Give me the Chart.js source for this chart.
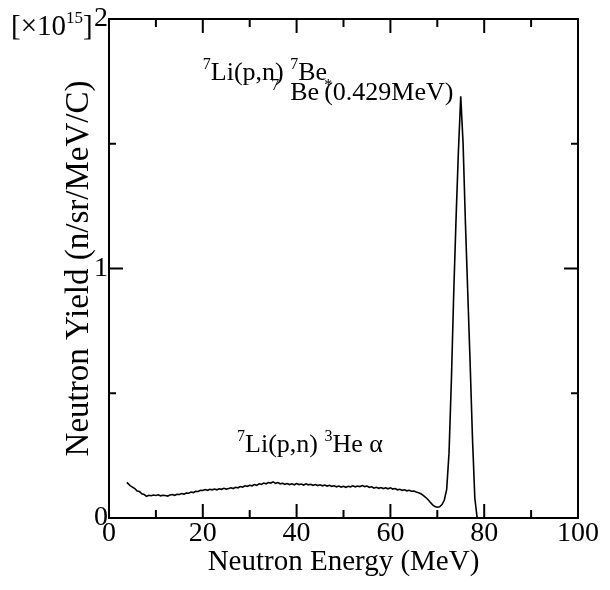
<!DOCTYPE html>
<html>
<head>
<meta charset="utf-8">
<script src="https://cdn.jsdelivr.net/npm/chart.js@4/dist/chart.umd.min.js"></script>
<style>
  html, body { margin: 0; padding: 0; background: #fff; }
  #wrap { width: 610px; height: 590px; }
</style>
</head>
<body>
<div id="wrap"><canvas id="c" width="610" height="590"></canvas></div>
<script>
// Neutron energy spectrum from 7Li(p,n) at ~78 MeV proton energy
const energy = [
  3.8, 4.5, 5, 5.5, 6, 6.5, 7, 7.5, 8, 8.5, 9, 9.5, 10, 10.5, 11, 11.5, 12, 12.5,
  13, 13.5, 14, 14.5, 15, 15.5, 16, 16.5, 17, 17.5, 18, 18.5, 19, 19.5, 20, 20.5,
  21, 21.5, 22, 22.5, 23, 23.5, 24, 24.5, 25, 25.5, 26, 26.5, 27, 27.5, 28, 28.5,
  29, 29.5, 30, 30.5, 31, 31.5, 32, 32.5, 33, 33.5, 34, 34.5, 35, 35.5, 36, 36.5,
  37, 37.5, 38, 38.5, 39, 39.5, 40, 40.5, 41, 41.5, 42, 42.5, 43, 43.5, 44, 44.5,
  45, 45.5, 46, 46.5, 47, 47.5, 48, 48.5, 49, 49.5, 50, 50.5, 51, 51.5, 52, 52.5,
  53, 53.5, 54, 54.5, 55, 55.5, 56, 56.5, 57, 57.5, 58, 58.5, 59, 59.5, 60, 60.5,
  61, 61.5, 62, 62.5, 63, 63.5, 64, 64.5, 65, 65.5, 66, 66.5, 67, 67.5, 68, 68.5,
  69, 69.5, 70, 70.5, 71, 71.5, 72, 72.5, 73, 73.5, 74, 74.5, 75, 75.5, 76, 76.5,
  77, 77.5, 78, 78.5
];

// yield in units of 1e15 n/sr/MeV/C
const neutronYield = [
  0.143, 0.130, 0.124, 0.118, 0.108, 0.106, 0.097, 0.094, 0.087, 0.091, 0.089, 0.092, 0.090, 0.093, 0.089, 0.091, 0.090, 0.088,
  0.092, 0.094, 0.091, 0.095, 0.094, 0.098, 0.096, 0.100, 0.099, 0.104, 0.102, 0.107, 0.106, 0.111, 0.110, 0.114,
  0.111, 0.115, 0.113, 0.116, 0.113, 0.117, 0.115, 0.119, 0.116, 0.118, 0.121, 0.118, 0.123, 0.121, 0.126, 0.124,
  0.129, 0.127, 0.131, 0.129, 0.134, 0.131, 0.137, 0.135, 0.140, 0.137, 0.142, 0.140, 0.145, 0.139, 0.142, 0.137,
  0.139, 0.135, 0.138, 0.134, 0.137, 0.133, 0.138, 0.134, 0.136, 0.132, 0.137, 0.133, 0.135, 0.131, 0.134, 0.130,
  0.133, 0.129, 0.132, 0.128, 0.131, 0.127, 0.129, 0.125, 0.128, 0.124, 0.127, 0.123, 0.127, 0.125, 0.129, 0.125,
  0.128, 0.126, 0.130, 0.126, 0.128, 0.123, 0.125, 0.120, 0.123, 0.119, 0.122, 0.118, 0.121, 0.117, 0.121, 0.116,
  0.118, 0.113, 0.115, 0.111, 0.113, 0.109, 0.111, 0.107, 0.108, 0.104, 0.101, 0.097, 0.091, 0.083, 0.074, 0.063,
  0.053, 0.046, 0.043, 0.045, 0.054, 0.072, 0.115, 0.26, 0.55, 0.90, 1.20, 1.47, 1.69, 1.50, 1.18, 0.90,
  0.62, 0.32, 0.08, 0.00
];

const xMajorTicks = [0, 20, 40, 60, 80, 100];
const xMinorTicks = [10, 30, 50, 70, 90];
const yMajorTicks = [0, 1, 2];
const yMinorTicks = [0.5, 1.5];

const SERIF = "'Liberation Serif', 'DejaVu Serif', 'Times New Roman', serif";
Chart.defaults.font.family = SERIF;
Chart.defaults.color = '#000';

// Frame around the plot area with inward-pointing ticks on all four sides
const frameTicks = {
  id: 'frameTicks',
  afterDatasetsDraw(chart) {
    const { ctx, chartArea: a, scales: { x, y } } = chart;
    ctx.save();
    ctx.strokeStyle = '#000';
    ctx.lineWidth = 2;
    ctx.strokeRect(a.left, a.top, a.right - a.left, a.bottom - a.top);
    const seg = (x1, y1, x2, y2) => { ctx.beginPath(); ctx.moveTo(x1, y1); ctx.lineTo(x2, y2); ctx.stroke(); };
    const xTick = (v, len) => {
      const px = x.getPixelForValue(v);
      seg(px, a.bottom, px, a.bottom - len);
      seg(px, a.top, px, a.top + len);
    };
    const yTick = (v, len) => {
      const py = y.getPixelForValue(v);
      seg(a.left, py, a.left + len, py);
      seg(a.right, py, a.right - len, py);
    };
    xMajorTicks.forEach(v => xTick(v, 14));
    xMinorTicks.forEach(v => xTick(v, 8));
    yMajorTicks.forEach(v => yTick(v, 14));
    yMinorTicks.forEach(v => yTick(v, 7));
    ctx.restore();
  }
};

// Draws a run of text pieces, some of them as superscripts
function drawRich(ctx, x0, y0, pieces, size) {
  let x = x0;
  pieces.forEach(p => {
    const fs = p.sup ? Math.round(size * 0.6) : size;
    ctx.font = fs + 'px ' + SERIF;
    const dy = p.sup ? -size * (p.rise || 0.42) : 0;
    ctx.fillText(p.t, x + (p.dx || 0), y0 + dy);
    x += ctx.measureText(p.t).width + (p.dx || 0) + (p.gap || 0);
  });
}

const labels = {
  id: 'labels',
  afterDraw(chart) {
    const { ctx, scales: { x, y } } = chart;
    ctx.save();
    ctx.fillStyle = '#000';
    ctx.textBaseline = 'alphabetic';
    ctx.textAlign = 'left';

    // exponent of the y axis, placed beside the top tick label
    drawRich(ctx, 11, y.getPixelForValue(2) + 16, [
      { t: '[\u00d710' }, { t: '15', sup: true }, { t: ']' }
    ], 29);

    // reaction labels
    drawRich(ctx, x.getPixelForValue(20), y.getPixelForValue(1.755), [
      { t: '7', sup: true }, { t: 'Li(p,n) ' }, { t: '7', sup: true }, { t: 'Be' }
    ], 26);
    drawRich(ctx, x.getPixelForValue(34.6), y.getPixelForValue(1.675), [
      { t: '7', sup: true, gap: 11, rise: 0.38 }, { t: 'Be' }, { t: '*', sup: true, dx: 5, gap: -8, rise: 0.38 }, { t: '(0.429MeV)' }
    ], 26);
    drawRich(ctx, x.getPixelForValue(27.3), y.getPixelForValue(0.265), [
      { t: '7', sup: true }, { t: 'Li(p,n) ' }, { t: '3', sup: true }, { t: 'He \u03b1' }
    ], 26);
    ctx.restore();
  }
};

new Chart(document.getElementById('c'), {
  type: 'scatter',
  data: {
    datasets: [{
      data: energy.map((e, i) => ({ x: e, y: neutronYield[i] })),
      showLine: true,
      borderColor: '#000',
      borderWidth: 1.6,
      pointRadius: 0,
      tension: 0,
      fill: false
    }]
  },
  options: {
    responsive: false,
    animation: false,
    events: [],
    layout: { padding: { top: 19, right: 32, left: 0, bottom: 0 } },
    plugins: { legend: { display: false }, tooltip: { enabled: false } },
    scales: {
      x: {
        type: 'linear',
        min: 0, max: 100,
        afterFit(s) { s.height = 72; },
        afterBuildTicks(s) { s.ticks = xMajorTicks.map(v => ({ value: v })); },
        grid: { display: false, drawTicks: false },
        border: { display: false },
        ticks: { font: { size: 28, lineHeight: 1 }, padding: 2, color: '#000', maxRotation: 0 },
        title: {
          display: true, text: 'Neutron Energy (MeV)',
          font: { size: 29, lineHeight: 1 }, padding: { top: 0, bottom: 13 }, color: '#000'
        }
      },
      y: {
        type: 'linear',
        min: 0, max: 2,
        afterFit(s) { s.width = 109; },
        afterBuildTicks(s) { s.ticks = yMajorTicks.map(v => ({ value: v })); },
        grid: { display: false, drawTicks: false },
        border: { display: false },
        ticks: { font: { size: 28, lineHeight: 1 }, padding: 1, color: '#000' },
        title: {
          display: true, text: 'Neutron Yield (n/sr/MeV/C)',
          font: { size: 33, lineHeight: 1 }, padding: { top: 63, bottom: 0 }, color: '#000'
        }
      }
    }
  },
  plugins: [frameTicks, labels]
});
</script>
</body>
</html>
